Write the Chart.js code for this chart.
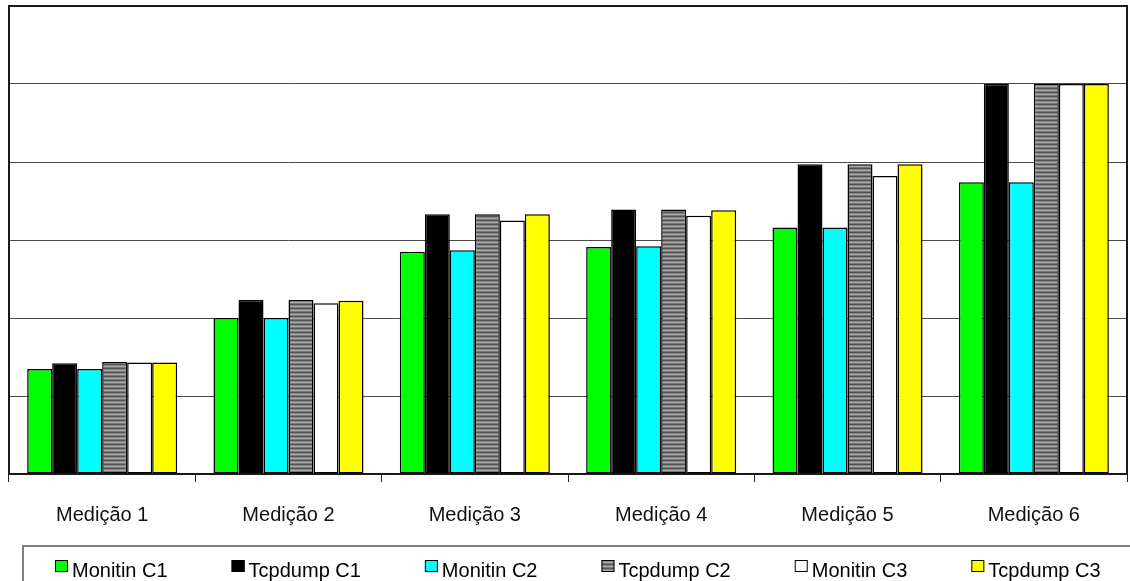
<!DOCTYPE html>
<html>
<head>
<meta charset="utf-8">
<title>Medições</title>
<script src="https://cdn.jsdelivr.net/npm/chart.js@4/dist/chart.umd.min.js"></script>
<style>
  html, body { margin: 0; padding: 0; background: #ffffff; }
  canvas { display: block; }
</style>
</head>
<body>
<canvas id="chart" width="1130" height="581"></canvas>
<script>
// Measurement rounds on the category axis
const categories = ['Medição 1', 'Medição 2', 'Medição 3', 'Medição 4', 'Medição 5', 'Medição 6'];

// One array per capture tool / configuration
const monitinC1 = [1.345, 2.00, 2.85, 2.91, 3.16, 3.74];
const tcpdumpC1 = [1.42, 2.23, 3.33, 3.39, 3.97, 5.00];
const monitinC2 = [1.345, 2.00, 2.87, 2.92, 3.16, 3.74];
const tcpdumpC2 = [1.435, 2.23, 3.33, 3.39, 3.97, 5.00];
const monitinC3 = [1.43, 2.19, 3.25, 3.31, 3.82, 5.00];
const tcpdumpC3 = [1.43, 2.22, 3.33, 3.38, 3.97, 5.00];

const seriesNames = ['Monitin C1', 'Tcpdump C1', 'Monitin C2', 'Tcpdump C2', 'Monitin C3', 'Tcpdump C3'];

// Value axis: five gridlines between 0 and the top of the frame
const yMin = 0;
const yMax = 6;
const yStep = 1;

const FONT = "'Liberation Sans', Arial, sans-serif";

// Horizontal grey stripes used for the second Tcpdump series
function stripePattern() {
  const p = document.createElement('canvas');
  p.width = 4; p.height = 4;
  const g = p.getContext('2d');
  ['#555555', '#858585', '#ababab', '#767676'].forEach((c, i) => {
    g.fillStyle = c;
    g.fillRect(0, i, 4, 1);
  });
  return g.createPattern(p, 'repeat');
}
const stripes = stripePattern();

const fills = ['#00ff00', '#000000', '#00ffff', stripes, '#ffffff', '#ffff00'];
const values = [monitinC1, tcpdumpC1, monitinC2, tcpdumpC2, monitinC3, tcpdumpC3];

const datasets = seriesNames.map((name, i) => ({
  label: name,
  data: values[i],
  backgroundColor: fills[i],
  borderColor: '#000000',
  borderWidth: 1.5,
  borderSkipped: false,
  barPercentage: 1.0,
  categoryPercentage: 0.805
}));

// Outline around the plotting area
const frame = {
  id: 'frame',
  afterDatasetsDraw(chart) {
    const { ctx, chartArea: a } = chart;
    ctx.save();
    ctx.strokeStyle = '#1a1a1a';
    ctx.lineWidth = 2;
    ctx.strokeRect(a.left, a.top, a.right - a.left, a.bottom - a.top);
    ctx.restore();
  }
};

// Boxed legend row under the category labels
const boxedLegend = {
  id: 'boxedLegend',
  afterDraw(chart) {
    const { ctx } = chart;
    const top = 546;
    const left = 23;
    ctx.save();
    ctx.strokeStyle = '#808080';
    ctx.lineWidth = 2;
    ctx.strokeRect(left, top, chart.width + 20, 60);

    ctx.font = '20px ' + FONT;
    ctx.textBaseline = 'alphabetic';
    ctx.textAlign = 'left';
    const boxW = 13, boxH = 12, gap = 4, pad = 64;
    let x = 55;
    chart.data.datasets.forEach(ds => {
      ctx.fillStyle = ds.backgroundColor;
      ctx.fillRect(x, 560, boxW, boxH);
      ctx.strokeStyle = '#000000';
      ctx.lineWidth = 1;
      ctx.strokeRect(x + 0.5, 560.5, boxW - 1, boxH - 1);
      ctx.fillStyle = '#000000';
      const tx = x + boxW + gap;
      ctx.fillText(ds.label, tx, 577);
      x = tx + ctx.measureText(ds.label).width + pad;
    });
    ctx.restore();
  }
};

new Chart(document.getElementById('chart'), {
  type: 'bar',
  data: { labels: categories, datasets },
  options: {
    responsive: false,
    animation: false,
    devicePixelRatio: 1,
    layout: { padding: { left: 9, right: 3, top: 6, bottom: 33 } },
    plugins: {
      legend: { display: false },
      tooltip: { enabled: false }
    },
    scales: {
      x: {
        grid: {
          offset: true,
          drawOnChartArea: false,
          drawTicks: true,
          tickLength: 8,
          tickColor: '#222222',
          color: '#222222',
          lineWidth: 1
        },
        border: { display: false },
        ticks: {
          color: '#111111',
          padding: 21,
          font: { family: FONT, size: 20 }
        }
      },
      y: {
        min: yMin,
        max: yMax,
        grid: { color: '#4a4a4a', lineWidth: 1, drawTicks: false },
        border: { display: false },
        ticks: { display: false, stepSize: yStep }
      }
    }
  },
  plugins: [frame, boxedLegend]
});
</script>
</body>
</html>
